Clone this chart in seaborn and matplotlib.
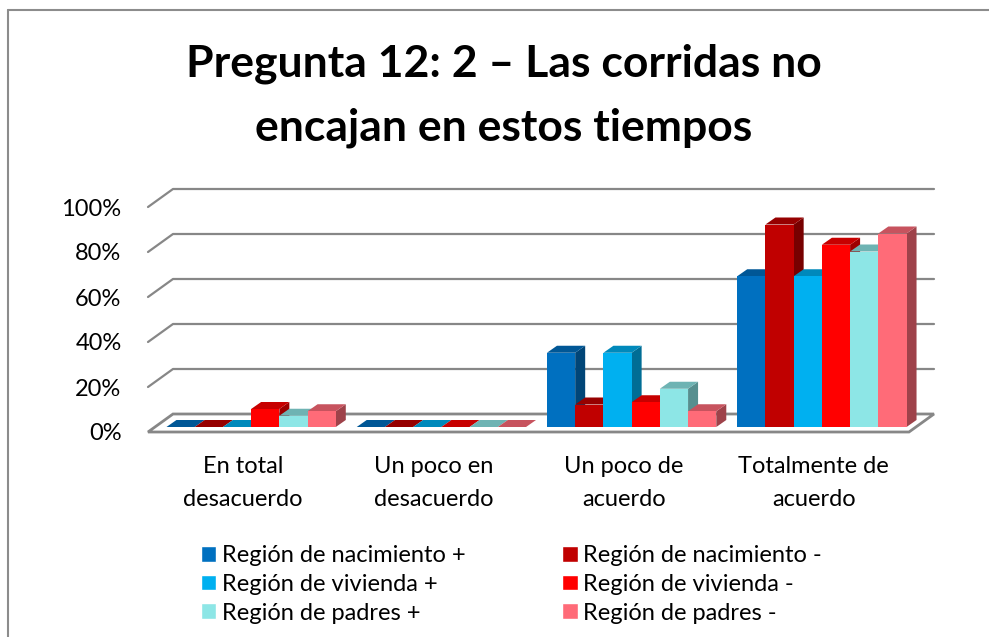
import numpy as np
import pandas as pd
import matplotlib
matplotlib.use("Agg")
import matplotlib.pyplot as plt
import matplotlib.colors as mcolors
from matplotlib.patches import Polygon
from matplotlib.transforms import ScaledTranslation
import seaborn as sns

# --- Data (percent of answers) ---
categories = ["En total\ndesacuerdo", "Un poco en\ndesacuerdo",
              "Un poco de\nacuerdo", "Totalmente de\nacuerdo"]
series_names = ["Región de nacimiento +", "Región de nacimiento -",
                "Región de vivienda +", "Región de vivienda -",
                "Región de padres +", "Región de padres -"]
nacimiento_pos = [0, 0, 33, 67]
nacimiento_neg = [0, 0, 10, 90]
vivienda_pos = [0, 0, 33, 67]
vivienda_neg = [8, 0, 11, 81]
padres_pos = [5, 0, 17, 78]
padres_neg = [7, 0, 7, 86]
y_ticks = [0, 20, 40, 60, 80, 100]
y_tick_labels = ["0%", "20%", "40%", "60%", "80%", "100%"]

colors = ["#0070C0", "#C00000", "#00B0F0", "#FF0000", "#8DE6E6", "#FF6B78"]

values = [nacimiento_pos, nacimiento_neg, vivienda_pos,
          vivienda_neg, padres_pos, padres_neg]
df = pd.DataFrame([
    {"categoria": c, "serie": s, "valor": v}
    for s, vals in zip(series_names, values)
    for c, v in zip(categories, vals)
])

FONT = "Lato"
W, H, DPI = 989, 637, 100

sns.set_theme(style="white")
plt.rcParams["font.family"] = [FONT, "DejaVu Sans"]
plt.rcParams["text.color"] = "black"
plt.rcParams["xtick.color"] = "black"
plt.rcParams["ytick.color"] = "black"

fig = plt.figure(figsize=(W / DPI, H / DPI), dpi=DPI)
# axes placed so the front floor edge matches the reference (pixels)
ax = fig.add_axes([148 / W, 1 - 432 / H, (909 - 148) / W, (432 - 207) / H])

sns.barplot(data=df, x="categoria", y="valor", hue="serie",
            hue_order=series_names, order=categories, palette=colors,
            width=0.89, ax=ax, legend=True, saturation=1)

ax.set_xlim(-0.5, len(categories) - 0.5)
ax.set_ylim(0, 100)

# pixel -> data conversion
px_x = len(categories) / (909 - 148)
px_y = 100 / (432 - 207)

# --- 3D-ish back wall gridlines and floor ---
floor_dx, floor_dy = 25 * px_x, 18 * px_y
x0, x1 = -0.5, len(categories) - 0.5
for v in y_ticks[1:]:
    ax.plot([x0, x0 + floor_dx, x1 + floor_dx], [v, v + floor_dy, v + floor_dy],
            color="#878787", lw=1.6, clip_on=False, zorder=0)
floor = Polygon([[x0, 0], [x1, 0], [x1 + floor_dx, floor_dy], [x0 + floor_dx, floor_dy]],
                closed=True, facecolor="white", edgecolor="#878787", lw=2,
                clip_on=False, zorder=0.5)
ax.add_patch(floor)

# --- bars: front face from seaborn, add top and side faces ---
bars = []
for cont in ax.containers:
    for p in cont:
        bars.append(p)
bars.sort(key=lambda p: p.get_x())

shift = ScaledTranslation(8 / DPI, 5 / DPI, fig.dpi_scale_trans)
bar_dx, bar_dy = 10 * px_x, 7 * px_y
for k, p in enumerate(bars):
    base = 2 + 3 * k
    x, w, h = p.get_x(), p.get_width(), p.get_height()
    c = np.array(mcolors.to_rgb(p.get_facecolor()))
    p.set_edgecolor("none")
    p.set_zorder(base + 2)
    p.set_transform(ax.transData + shift)
    p.set_clip_on(False)
    top = Polygon([[x, h], [x + w, h], [x + w + bar_dx, h + bar_dy], [x + bar_dx, h + bar_dy]],
                  closed=True, facecolor=c * 0.78, edgecolor="none",
                  transform=ax.transData + shift, clip_on=False, zorder=base + 1)
    side = Polygon([[x + w, 0], [x + w + bar_dx, bar_dy], [x + w + bar_dx, h + bar_dy], [x + w, h]],
                   closed=True, facecolor=c * 0.62, edgecolor="none",
                   transform=ax.transData + shift, clip_on=False, zorder=base)
    ax.add_patch(side)
    ax.add_patch(top)

# --- axes text ---
ax.set_xlabel("")
ax.set_ylabel("")
ax.set_yticks(y_ticks)
ax.set_yticklabels(y_tick_labels, fontsize=17)
ax.tick_params(axis="y", length=0, pad=19)
ax.tick_params(axis="x", length=0, pad=17, labelsize=17)
for lab in ax.get_xticklabels():
    lab.set_linespacing(1.75)
for s in ax.spines.values():
    s.set_visible(False)
ax.grid(False)
ax.set_facecolor("none")

# --- legend (reference reads row-wise, matplotlib fills column-wise) ---
handles, labels = ax.get_legend_handles_labels()
order = [0, 2, 4, 1, 3, 5]
ax.legend([handles[i] for i in order], [labels[i] for i in order],
          loc="upper left", bbox_to_anchor=(201 / W, 1 - 545 / H),
          bbox_transform=fig.transFigure, ncol=2, frameon=False,
          fontsize=17, handlelength=0.64, handleheight=0.64, handletextpad=0.25,
          columnspacing=4.1, labelspacing=0.33, borderaxespad=0, borderpad=0)

# --- title ---
fig.text(0.509, 1 - 44 / H, "Pregunta 12: 2 – Las corridas no\nencajan en estos tiempos",
         ha="center", va="top", fontsize=32, fontweight="bold", linespacing=1.7)

# chart frame (left and top edges visible in the reference)
fig.add_artist(plt.Line2D([8 / W, 8 / W], [0, 1 - 10 / H], color="#8c8c8c", lw=1.5))
fig.add_artist(plt.Line2D([8 / W, 1], [1 - 10 / H, 1 - 10 / H], color="#8c8c8c", lw=1.5))

fig.savefig("out.png", dpi=DPI)
